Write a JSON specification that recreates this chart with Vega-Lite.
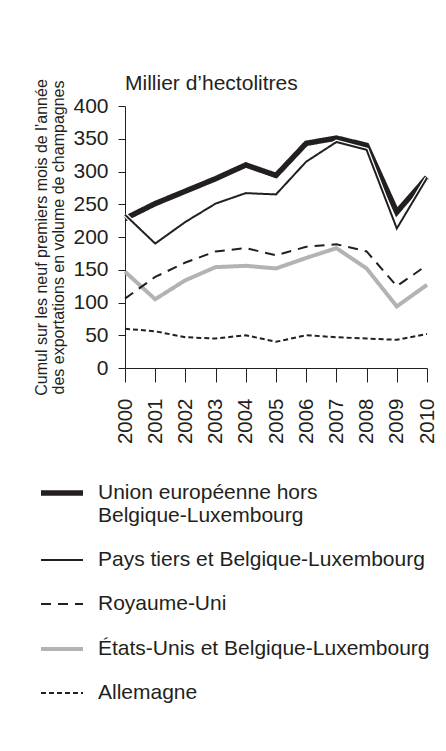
{
  "$schema": "https://vega.github.io/schema/vega-lite/v6.json",
  "autosize": {"type": "none"},
  "width": 302,
  "height": 262,
  "padding": {"left": 125, "top": 106, "right": 19, "bottom": 383},
  "background": "white",
  "config": {
    "font": "Liberation Sans",
    "view": {"stroke": null},
    "axis": {"grid": false, "domainColor": "#231f20", "tickColor": "#231f20", "labelColor": "#231f20", "titleColor": "#231f20", "labelFontSize": 21, "labelFont": "Liberation Sans", "titleFont": "Liberation Sans"},
    "legend": {
      "orient": "none",
      "legendX": -87,
      "legendY": 363,
      "title": null,
      "padding": 0,
      "symbolType": "stroke",
      "symbolSize": 1764,
      "labelFontSize": 21,
      "labelColor": "#231f20",
      "labelLimit": 400,
      "labelOffset": 12,
      "rowPadding": 12
    }
  },
  "title": {"text": "Millier d’hectolitres", "anchor": "start", "frame": "group", "fontSize": 21, "fontWeight": "normal", "color": "#231f20", "baseline": "alphabetic", "offset": 15, "dy": 47},
  "data": {
    "values": [
      {"serie": "États-Unis et Belgique-Luxembourg", "annee": 2000, "valeur": 147},
      {"serie": "États-Unis et Belgique-Luxembourg", "annee": 2001, "valeur": 105},
      {"serie": "États-Unis et Belgique-Luxembourg", "annee": 2002, "valeur": 134},
      {"serie": "États-Unis et Belgique-Luxembourg", "annee": 2003, "valeur": 154},
      {"serie": "États-Unis et Belgique-Luxembourg", "annee": 2004, "valeur": 156},
      {"serie": "États-Unis et Belgique-Luxembourg", "annee": 2005, "valeur": 152},
      {"serie": "États-Unis et Belgique-Luxembourg", "annee": 2006, "valeur": 168},
      {"serie": "États-Unis et Belgique-Luxembourg", "annee": 2007, "valeur": 183},
      {"serie": "États-Unis et Belgique-Luxembourg", "annee": 2008, "valeur": 152},
      {"serie": "États-Unis et Belgique-Luxembourg", "annee": 2009, "valeur": 94},
      {"serie": "États-Unis et Belgique-Luxembourg", "annee": 2010, "valeur": 127},
      {"serie": "Allemagne", "annee": 2000, "valeur": 60},
      {"serie": "Allemagne", "annee": 2001, "valeur": 56},
      {"serie": "Allemagne", "annee": 2002, "valeur": 47},
      {"serie": "Allemagne", "annee": 2003, "valeur": 45},
      {"serie": "Allemagne", "annee": 2004, "valeur": 50},
      {"serie": "Allemagne", "annee": 2005, "valeur": 40},
      {"serie": "Allemagne", "annee": 2006, "valeur": 50},
      {"serie": "Allemagne", "annee": 2007, "valeur": 47},
      {"serie": "Allemagne", "annee": 2008, "valeur": 45},
      {"serie": "Allemagne", "annee": 2009, "valeur": 43},
      {"serie": "Allemagne", "annee": 2010, "valeur": 52},
      {"serie": "Royaume-Uni", "annee": 2000, "valeur": 106},
      {"serie": "Royaume-Uni", "annee": 2001, "valeur": 139},
      {"serie": "Royaume-Uni", "annee": 2002, "valeur": 161},
      {"serie": "Royaume-Uni", "annee": 2003, "valeur": 178},
      {"serie": "Royaume-Uni", "annee": 2004, "valeur": 183},
      {"serie": "Royaume-Uni", "annee": 2005, "valeur": 172},
      {"serie": "Royaume-Uni", "annee": 2006, "valeur": 185},
      {"serie": "Royaume-Uni", "annee": 2007, "valeur": 189},
      {"serie": "Royaume-Uni", "annee": 2008, "valeur": 178},
      {"serie": "Royaume-Uni", "annee": 2009, "valeur": 125},
      {"serie": "Royaume-Uni", "annee": 2010, "valeur": 157},
      {"serie": "Union européenne hors Belgique-Luxembourg", "annee": 2000, "valeur": 228},
      {"serie": "Union européenne hors Belgique-Luxembourg", "annee": 2001, "valeur": 251},
      {"serie": "Union européenne hors Belgique-Luxembourg", "annee": 2002, "valeur": 270},
      {"serie": "Union européenne hors Belgique-Luxembourg", "annee": 2003, "valeur": 289},
      {"serie": "Union européenne hors Belgique-Luxembourg", "annee": 2004, "valeur": 310},
      {"serie": "Union européenne hors Belgique-Luxembourg", "annee": 2005, "valeur": 294},
      {"serie": "Union européenne hors Belgique-Luxembourg", "annee": 2006, "valeur": 343},
      {"serie": "Union européenne hors Belgique-Luxembourg", "annee": 2007, "valeur": 351},
      {"serie": "Union européenne hors Belgique-Luxembourg", "annee": 2008, "valeur": 340},
      {"serie": "Union européenne hors Belgique-Luxembourg", "annee": 2009, "valeur": 238},
      {"serie": "Union européenne hors Belgique-Luxembourg", "annee": 2010, "valeur": 291},
      {"serie": "Pays tiers et Belgique-Luxembourg", "annee": 2000, "valeur": 234},
      {"serie": "Pays tiers et Belgique-Luxembourg", "annee": 2001, "valeur": 190},
      {"serie": "Pays tiers et Belgique-Luxembourg", "annee": 2002, "valeur": 223},
      {"serie": "Pays tiers et Belgique-Luxembourg", "annee": 2003, "valeur": 251},
      {"serie": "Pays tiers et Belgique-Luxembourg", "annee": 2004, "valeur": 267},
      {"serie": "Pays tiers et Belgique-Luxembourg", "annee": 2005, "valeur": 265},
      {"serie": "Pays tiers et Belgique-Luxembourg", "annee": 2006, "valeur": 315},
      {"serie": "Pays tiers et Belgique-Luxembourg", "annee": 2007, "valeur": 345},
      {"serie": "Pays tiers et Belgique-Luxembourg", "annee": 2008, "valeur": 333},
      {"serie": "Pays tiers et Belgique-Luxembourg", "annee": 2009, "valeur": 213},
      {"serie": "Pays tiers et Belgique-Luxembourg", "annee": 2010, "valeur": 290}
    ]
  },
  "encoding": {
    "x": {
      "field": "annee", "type": "quantitative",
      "scale": {"domain": [2000, 2010], "nice": false, "zero": false},
      "axis": {"values": [2000, 2001, 2002, 2003, 2004, 2005, 2006, 2007, 2008, 2009, 2010], "format": "d", "labelAngle": -90, "title": null, "tickSize": 14, "labelPadding": 16, "labelFontSize": 20.5}
    },
    "y": {
      "field": "valeur", "type": "quantitative",
      "scale": {"domain": [0, 400], "nice": false},
      "axis": {
        "values": [0, 50, 100, 150, 200, 250, 300, 350, 400],
        "title": ["Cumul sur les neuf premiers mois de l’année", "des exportations en volume de champagnes"],
        "titleFontSize": 16, "titleFontWeight": "normal", "titleAngle": -90,
        "titleX": -92, "titleY": 131, "titleAlign": "center", "titleBaseline": "top", "titleLineHeight": 17.5,
        "tickSize": 7, "labelPadding": 10
      }
    }
  },
  "layer": [
    {
      "transform": [{"filter": "datum.serie != 'Pays tiers et Belgique-Luxembourg'"}],
      "mark": {"type": "line", "strokeJoin": "miter", "strokeCap": "butt"},
      "encoding": {
        "color": {"field": "serie", "type": "nominal", "scale": {"domain": ["Union européenne hors Belgique-Luxembourg", "Pays tiers et Belgique-Luxembourg", "Royaume-Uni", "États-Unis et Belgique-Luxembourg", "Allemagne"], "range": ["#231f20", "#231f20", "#231f20", "#b3b3b3", "#231f20"]},
          "legend": {"labelExpr": "indexof(datum.label, 'Union') == 0 ? ['Union européenne hors', 'Belgique-Luxembourg'] : datum.label"}},
        "strokeDash": {"field": "serie", "type": "nominal", "scale": {"domain": ["Union européenne hors Belgique-Luxembourg", "Pays tiers et Belgique-Luxembourg", "Royaume-Uni", "États-Unis et Belgique-Luxembourg", "Allemagne"], "range": [[1, 0], [1, 0], [10, 7], [1, 0], [5, 3]]},
          "legend": {"labelExpr": "indexof(datum.label, 'Union') == 0 ? ['Union européenne hors', 'Belgique-Luxembourg'] : datum.label"}},
        "strokeWidth": {"field": "serie", "type": "nominal", "scale": {"type": "ordinal", "domain": ["Union européenne hors Belgique-Luxembourg", "Pays tiers et Belgique-Luxembourg", "Royaume-Uni", "États-Unis et Belgique-Luxembourg", "Allemagne"], "range": [5.5, 2, 2, 4, 2]},
          "legend": {"labelExpr": "indexof(datum.label, 'Union') == 0 ? ['Union européenne hors', 'Belgique-Luxembourg'] : datum.label"}}
      }
    },
    {
      "transform": [{"filter": "datum.serie == 'Pays tiers et Belgique-Luxembourg'"}],
      "mark": {"type": "line", "color": "white", "strokeWidth": 4.5, "strokeJoin": "miter"},
      "encoding": {}
    },
    {
      "transform": [{"filter": "datum.serie == 'Pays tiers et Belgique-Luxembourg'"}],
      "mark": {"type": "line", "strokeJoin": "miter", "strokeCap": "butt"},
      "encoding": {
        "color": {"field": "serie", "type": "nominal", "scale": {"domain": ["Union européenne hors Belgique-Luxembourg", "Pays tiers et Belgique-Luxembourg", "Royaume-Uni", "États-Unis et Belgique-Luxembourg", "Allemagne"], "range": ["#231f20", "#231f20", "#231f20", "#b3b3b3", "#231f20"]},
          "legend": {"labelExpr": "indexof(datum.label, 'Union') == 0 ? ['Union européenne hors', 'Belgique-Luxembourg'] : datum.label"}},
        "strokeDash": {"field": "serie", "type": "nominal", "scale": {"domain": ["Union européenne hors Belgique-Luxembourg", "Pays tiers et Belgique-Luxembourg", "Royaume-Uni", "États-Unis et Belgique-Luxembourg", "Allemagne"], "range": [[1, 0], [1, 0], [10, 7], [1, 0], [5, 3]]},
          "legend": {"labelExpr": "indexof(datum.label, 'Union') == 0 ? ['Union européenne hors', 'Belgique-Luxembourg'] : datum.label"}},
        "strokeWidth": {"field": "serie", "type": "nominal", "scale": {"type": "ordinal", "domain": ["Union européenne hors Belgique-Luxembourg", "Pays tiers et Belgique-Luxembourg", "Royaume-Uni", "États-Unis et Belgique-Luxembourg", "Allemagne"], "range": [5.5, 2, 2, 4, 2]},
          "legend": {"labelExpr": "indexof(datum.label, 'Union') == 0 ? ['Union européenne hors', 'Belgique-Luxembourg'] : datum.label"}}
      }
    }
  ]
}
